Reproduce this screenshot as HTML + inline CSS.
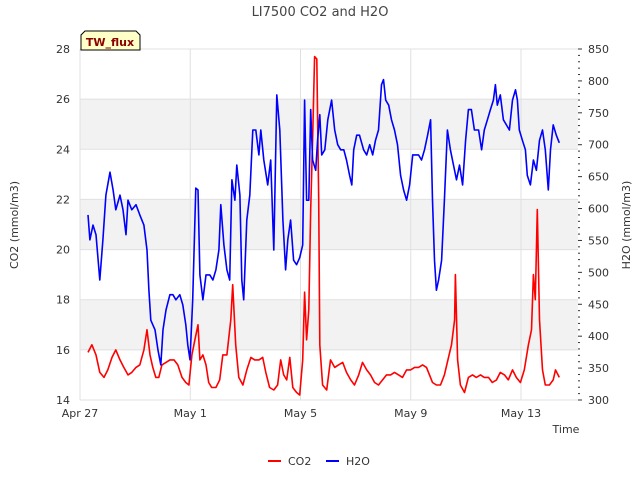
<!DOCTYPE html>
<html><head><meta charset="utf-8"><style>
body{margin:0;background:#fff;font-family:"Liberation Sans","DejaVu Sans",sans-serif}
</style></head><body>
<svg id="chart" width="640" height="480" xmlns="http://www.w3.org/2000/svg" font-family="DejaVu Sans, Liberation Sans, sans-serif">
<text x="320" y="16" text-anchor="middle" font-size="13" fill="#444">LI7500 CO2 and H2O</text>
<g id="plot"></g>
<g>
<path d="M81,50 L81,35 L85,31 L136,31 L140,35 L140,50 Z" fill="#ffffc8" stroke="#000" stroke-width="1"/>
<text x="110" y="46" text-anchor="middle" font-size="11" font-weight="bold" fill="#8b0000">TW_flux</text>
</g>
<text transform="translate(18,225) rotate(-90)" text-anchor="middle" font-size="11" fill="#333">CO2 (mmol/m3)</text>
<text transform="translate(630,225) rotate(-90)" text-anchor="middle" font-size="11" fill="#333">H2O (mmol/m3)</text>
<text x="566" y="433" text-anchor="middle" font-size="11" fill="#333">Time</text>
<g><line x1="268" y1="461" x2="281" y2="461" stroke="red" stroke-width="2"/><text x="288" y="465" font-size="11" fill="#333">CO2</text></g>
<g><line x1="326" y1="461" x2="339" y2="461" stroke="blue" stroke-width="2"/><text x="346" y="465" font-size="11" fill="#333">H2O</text></g>
</svg>
<script>
const xTickLabels=["Apr 27","May 1","May 5","May 9","May 13"];
const xTickDays=[0,4,8,12,16];
const leftTicks=[14,16,18,20,22,24,26,28];
const rightTicks=[300,350,400,450,500,550,600,650,700,750,800,850];
const h2oDays=[0.29,0.36,0.47,0.58,0.72,0.83,0.94,1.09,1.20,1.30,1.45,1.56,1.67,1.74,1.88,2.03,2.17,2.32,2.43,2.50,2.57,2.72,2.83,2.93,3.01,3.12,3.26,3.37,3.48,3.62,3.73,3.84,3.91,3.99,4.09,4.20,4.28,4.35,4.46,4.57,4.71,4.82,4.93,5.04,5.11,5.22,5.33,5.43,5.51,5.62,5.69,5.80,5.87,5.94,6.05,6.16,6.27,6.38,6.49,6.56,6.67,6.81,6.92,7.03,7.14,7.25,7.36,7.46,7.54,7.64,7.75,7.86,7.97,8.08,8.15,8.22,8.30,8.37,8.44,8.55,8.62,8.70,8.77,8.88,8.99,9.13,9.24,9.35,9.46,9.57,9.67,9.78,9.86,9.93,10.04,10.14,10.29,10.40,10.51,10.62,10.72,10.83,10.94,11.01,11.09,11.20,11.30,11.41,11.52,11.63,11.74,11.85,11.96,12.07,12.17,12.28,12.39,12.50,12.61,12.72,12.79,12.86,12.93,13.01,13.12,13.22,13.33,13.44,13.55,13.66,13.77,13.88,13.99,14.09,14.20,14.31,14.46,14.57,14.67,14.78,14.89,15.00,15.07,15.14,15.25,15.36,15.47,15.58,15.69,15.80,15.87,15.94,16.05,16.16,16.23,16.34,16.45,16.56,16.67,16.78,16.88,16.99,17.07,17.17,17.28,17.39];
const h2oValues=[590,551,574,559,488,551,621,657,629,598,621,598,559,613,598,606,590,574,535,472,425,410,378,355,410,441,465,465,457,465,449,418,386,363,457,632,629,496,457,496,496,488,504,535,606,543,504,488,645,613,668,621,488,457,582,621,723,723,684,723,676,637,676,535,778,723,582,504,551,582,519,512,523,543,770,613,613,755,676,660,707,747,684,692,739,770,723,700,692,692,676,652,637,692,715,715,692,684,700,684,707,723,794,802,770,762,739,723,700,652,629,613,637,684,684,684,676,692,715,739,613,519,472,488,519,613,723,692,668,645,668,637,707,755,755,723,723,692,723,739,755,770,794,762,778,739,731,723,770,786,770,723,707,692,652,637,676,660,707,723,692,629,692,731,715,703];
const co2Days=[0.29,0.43,0.58,0.72,0.87,1.01,1.16,1.30,1.45,1.59,1.74,1.88,2.03,2.17,2.32,2.43,2.54,2.64,2.75,2.86,2.97,3.12,3.26,3.41,3.55,3.70,3.84,3.95,4.06,4.17,4.28,4.35,4.46,4.57,4.67,4.78,4.93,5.07,5.18,5.33,5.47,5.54,5.65,5.76,5.91,6.05,6.20,6.34,6.49,6.63,6.74,6.88,7.03,7.17,7.28,7.39,7.50,7.61,7.72,7.86,7.97,8.08,8.15,8.22,8.30,8.37,8.44,8.51,8.59,8.66,8.70,8.80,8.95,9.09,9.24,9.38,9.53,9.67,9.82,9.96,10.11,10.25,10.40,10.54,10.69,10.83,10.98,11.12,11.27,11.41,11.56,11.70,11.85,11.99,12.14,12.28,12.43,12.57,12.68,12.79,12.93,13.08,13.22,13.37,13.48,13.59,13.62,13.70,13.80,13.95,14.09,14.24,14.38,14.53,14.67,14.82,14.96,15.11,15.25,15.40,15.54,15.69,15.83,15.98,16.12,16.27,16.38,16.45,16.52,16.59,16.67,16.78,16.88,17.03,17.17,17.25,17.39];
const co2Values=[15.9,16.2,15.8,15.1,14.9,15.2,15.7,16.0,15.6,15.3,15.0,15.1,15.3,15.4,16.0,16.8,15.8,15.3,14.9,14.9,15.4,15.5,15.6,15.6,15.4,14.9,14.7,14.6,15.8,16.4,17.0,15.6,15.8,15.4,14.7,14.5,14.5,14.8,15.8,15.8,17.2,18.6,16.2,14.9,14.6,15.2,15.7,15.6,15.6,15.7,15.1,14.5,14.4,14.6,15.6,15.0,14.8,15.7,14.5,14.3,14.2,15.6,18.3,16.4,17.6,21.6,24.4,27.7,27.6,22.0,16.2,14.6,14.4,15.6,15.3,15.4,15.5,15.1,14.8,14.6,15.0,15.5,15.2,15.0,14.7,14.6,14.8,15.0,15.0,15.1,15.0,14.9,15.2,15.2,15.3,15.3,15.4,15.3,15.0,14.7,14.6,14.6,15.0,15.7,16.2,17.2,19.0,15.6,14.6,14.3,14.9,15.0,14.9,15.0,14.9,14.9,14.7,14.8,15.1,15.0,14.8,15.2,14.9,14.7,15.2,16.2,16.8,19.0,18.0,21.6,17.2,15.2,14.6,14.6,14.8,15.2,14.9];

const NS="http://www.w3.org/2000/svg";
const L=80,R=578,T=49,B=400;
const x=d=>L+d*(521-80)/16;
const yL=v=>B-(v-14)*(B-T)/14;
const yR=v=>B-(v-300)*(B-T)/550;
const g=document.getElementById('plot');
function mk(tag,attrs,parent){const e=document.createElementNS(NS,tag);for(const k in attrs)e.setAttribute(k,attrs[k]);(parent||g).appendChild(e);return e;}
mk('rect',{x:L,y:T,width:R-L,height:B-T,fill:'#fff'});
[16,20,24].forEach(v=>{
  const r=mk('rect',{x:L,y:yL(v+2),width:R-L,height:yL(v)-yL(v+2),fill:'#f2f2f2'});
  
  
});
leftTicks.forEach(v=>{
  mk('line',{x1:L,x2:R,y1:yL(v),y2:yL(v),stroke:'#e0e0e0','stroke-width':1});
  const t=mk('text',{x:L-10,y:yL(v)+4,'text-anchor':'end','font-size':11,fill:'#333'});t.textContent=v;
  
  
});
xTickDays.forEach((d,i)=>{
  mk('line',{x1:x(d),x2:x(d),y1:T,y2:B,stroke:'#e0e0e0','stroke-width':1});
  const t=mk('text',{x:x(d),y:B+17,'text-anchor':'middle','font-size':11,fill:'#333'});t.textContent=xTickLabels[i];
  
  
});
for(let v=300;v<=850;v+=10){mk('line',{x1:R,x2:R+(v%50===0?4:2),y1:yR(v),y2:yR(v),stroke:'#333','stroke-width':1});}
rightTicks.forEach(v=>{
  const t=mk('text',{x:R+10,y:yR(v)+4,'text-anchor':'start','font-size':11,fill:'#333'});t.textContent=v;
  
  
});
function line(days,vals,yf,color,name){
  const p=mk('path',{d:days.map((d,i)=>(i?'L':'M')+x(d).toFixed(1)+','+yf(vals[i]).toFixed(1)).join(''),fill:'none',stroke:color,'stroke-width':1.6,'stroke-linejoin':'round'});
  
  
}
line(co2Days,co2Values,yL,'red','co2-line');
line(h2oDays,h2oValues,yR,'blue','h2o-line');
</script>
</body></html>
